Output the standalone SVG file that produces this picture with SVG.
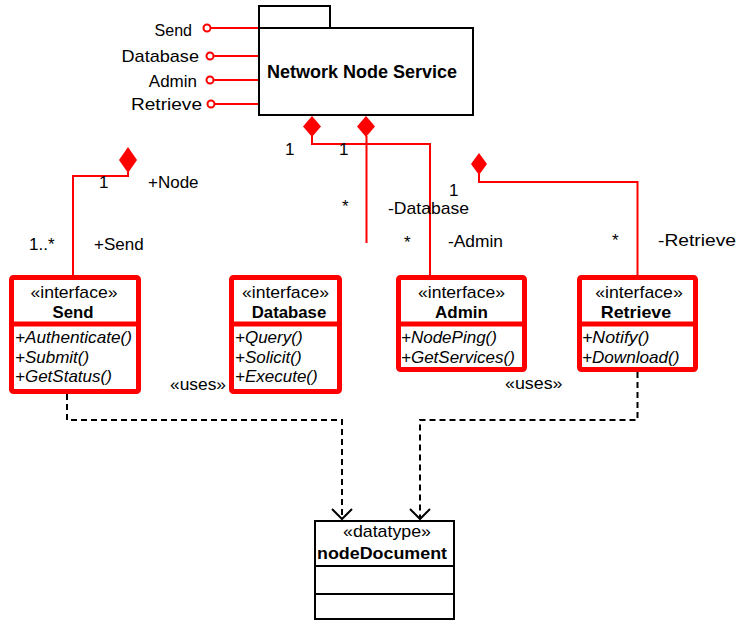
<svg xmlns="http://www.w3.org/2000/svg" width="739" height="621" viewBox="0 0 739 621">
  <style>
    text { font-family: "Liberation Sans", Arial, sans-serif; font-size: 17px; fill: #000; }
    .b { font-weight: bold; }
    .i { font-style: italic; }
    .c { text-anchor: middle; }
    .e { text-anchor: end; }
    .pkg { fill: #fff; stroke: #000; stroke-width: 2; }
    .iface { fill: #fff; stroke: #f00; stroke-width: 5; }
    .sep { stroke: #f00; stroke-width: 5; }
    .red { fill: none; stroke: #f00; stroke-width: 2; }
    .dia { fill: #f00; stroke: none; }
    .lol { fill: #fff; stroke: #f00; stroke-width: 2; }
    .dash { fill: none; stroke: #000; stroke-width: 2; stroke-dasharray: 6 4; }
    .head { fill: none; stroke: #000; stroke-width: 2; }
    .dt { fill: #fff; stroke: #000; stroke-width: 2; }
  </style>

  <!-- associations, provided interfaces and dependencies -->
  <g id="connectors">
    <!-- lollipops on the service package -->
    <line class="red" x1="211" y1="28" x2="259" y2="28"/>
    <circle class="lol" cx="207" cy="28" r="3.5"/>
    <line class="red" x1="214" y1="56" x2="259" y2="56"/>
    <circle class="lol" cx="210" cy="56" r="3.5"/>
    <line class="red" x1="214" y1="80" x2="259" y2="80"/>
    <circle class="lol" cx="210" cy="80" r="3.5"/>
    <line class="red" x1="215" y1="104" x2="259" y2="104"/>
    <circle class="lol" cx="211" cy="104" r="3.5"/>

    <!-- composition: service to Admin -->
    <polyline class="red" points="312,136 312,144 430,144 430,276"/>
    <polygon class="dia" points="312,116 321,126.5 312,137 303,126.5"/>
    <!-- composition: service to Database -->
    <polyline class="red" points="366.5,136 366.5,243"/>
    <polygon class="dia" points="366,116 375,126.5 366,137 357,126.5"/>
    <!-- composition: Send -->
    <polyline class="red" points="128,172 128,176 73,176 73,276"/>
    <polygon class="dia" points="128,147 137,160 128,173 119,160"/>
    <!-- composition: Retrieve -->
    <polyline class="red" points="479,174 479,182 637.5,182 637.5,276"/>
    <polygon class="dia" points="479,153 487,164 479,175 471,164"/>

    <!-- «uses» dependencies -->
    <polyline class="dash" points="67,394 67,420 342,420 342,518"/>
    <polyline class="head" points="332,509 342,519 352,509"/>
    <polyline class="dash" points="637.5,372 637.5,420 420,420 420,518"/>
    <polyline class="head" points="410,509 420,519 430,509"/>

    <!-- connector labels -->
    <text class="e" x="192" y="35.5" textLength="37.5" lengthAdjust="spacingAndGlyphs">Send</text>
    <text class="e" x="199" y="61.5" textLength="77.5" lengthAdjust="spacingAndGlyphs">Database</text>
    <text class="e" x="197" y="87">Admin</text>
    <text class="e" x="202" y="110" textLength="71" lengthAdjust="spacingAndGlyphs">Retrieve</text>

    <text x="285" y="155">1</text>
    <text x="339" y="155">1</text>
    <text x="99" y="188">1</text>
    <text x="148" y="188">+Node</text>
    <text x="29" y="250">1..*</text>
    <text x="94" y="250">+Send</text>
    <text x="342" y="212">*</text>
    <text x="449" y="196">1</text>
    <text x="388" y="214" textLength="81" lengthAdjust="spacingAndGlyphs">-Database</text>
    <text x="404" y="248">*</text>
    <text x="448" y="247" textLength="55" lengthAdjust="spacingAndGlyphs">-Admin</text>
    <text x="612" y="246">*</text>
    <text x="658" y="246" textLength="78" lengthAdjust="spacingAndGlyphs">-Retrieve</text>
    <text x="170" y="390" textLength="56" lengthAdjust="spacingAndGlyphs">«uses»</text>
    <text x="505" y="389" textLength="57.5" lengthAdjust="spacingAndGlyphs">«uses»</text>
  </g>

  <g id="network-node-service">
    <rect class="pkg" x="259" y="6" width="71" height="22"/>
    <rect class="pkg" x="259" y="28" width="214" height="87"/>
    <text class="b" x="267" y="78" style="font-size:18px" textLength="190" lengthAdjust="spacingAndGlyphs">Network Node Service</text>
  </g>

  <g id="send">
    <rect class="iface" x="11.5" y="277.5" width="127" height="114" rx="2"/>
    <line class="sep" x1="11.5" y1="324" x2="138.5" y2="324"/>
    <text class="c" x="74" y="298" textLength="87" lengthAdjust="spacingAndGlyphs">«interface»</text>
    <text class="c b" x="73" y="318" textLength="41" lengthAdjust="spacingAndGlyphs">Send</text>
    <text class="i" x="15" y="343" textLength="117" lengthAdjust="spacingAndGlyphs">+Authenticate()</text>
    <text class="i" x="15" y="362.5">+Submit()</text>
    <text class="i" x="15" y="382">+GetStatus()</text>
  </g>

  <g id="database">
    <rect class="iface" x="231.5" y="277.5" width="108" height="114" rx="2"/>
    <line class="sep" x1="231.5" y1="324" x2="339.5" y2="324"/>
    <text class="c" x="285.5" y="298" textLength="87" lengthAdjust="spacingAndGlyphs">«interface»</text>
    <text class="c b" x="289" y="318" textLength="74.5" lengthAdjust="spacingAndGlyphs">Database</text>
    <text class="i" x="235" y="343">+Query()</text>
    <text class="i" x="235" y="362.5">+Solicit()</text>
    <text class="i" x="235" y="382">+Execute()</text>
  </g>

  <g id="admin">
    <rect class="iface" x="398.5" y="277.5" width="126" height="92" rx="2"/>
    <line class="sep" x1="398.5" y1="324" x2="524.5" y2="324"/>
    <text class="c" x="461.5" y="298" textLength="87" lengthAdjust="spacingAndGlyphs">«interface»</text>
    <text class="c b" x="461.5" y="318">Admin</text>
    <text class="i" x="401" y="343">+NodePing()</text>
    <text class="i" x="401" y="362.5">+GetServices()</text>
  </g>

  <g id="retrieve">
    <rect class="iface" x="579.5" y="277.5" width="116" height="92" rx="2"/>
    <line class="sep" x1="579.5" y1="324" x2="695.5" y2="324"/>
    <text class="c" x="639" y="298" textLength="87.5" lengthAdjust="spacingAndGlyphs">«interface»</text>
    <text class="c b" x="636" y="318" textLength="70.5" lengthAdjust="spacingAndGlyphs">Retrieve</text>
    <text class="i" x="582" y="343" textLength="67.5" lengthAdjust="spacingAndGlyphs">+Notify()</text>
    <text class="i" x="582" y="362.5" textLength="97.5" lengthAdjust="spacingAndGlyphs">+Download()</text>
  </g>

  <g id="node-document">
    <rect class="dt" x="315" y="521" width="139" height="98"/>
    <line class="dt" x1="315" y1="566" x2="454" y2="566"/>
    <line class="dt" x1="315" y1="594" x2="454" y2="594"/>
    <text class="c" x="387" y="537" textLength="88" lengthAdjust="spacingAndGlyphs">«datatype»</text>
    <text class="c b" x="382" y="559" textLength="130" lengthAdjust="spacingAndGlyphs">nodeDocument</text>
  </g>
</svg>
